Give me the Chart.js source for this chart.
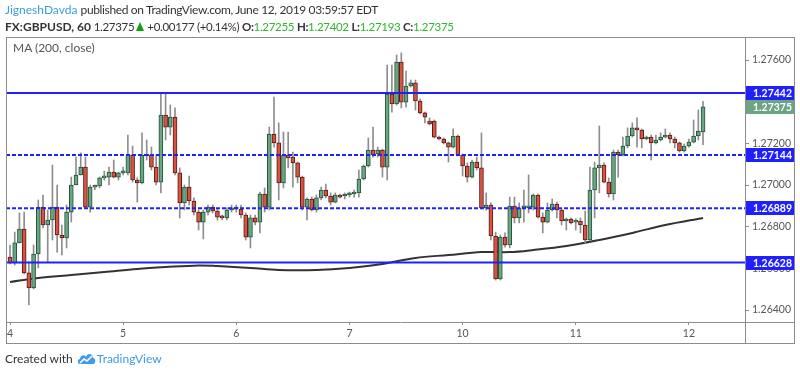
<!DOCTYPE html>
<html>
<head>
<meta charset="utf-8">
<script src="https://cdn.jsdelivr.net/npm/chart.js@4.4.1/dist/chart.umd.min.js"></script>
<style>
html,body{margin:0;padding:0;background:#fff;}
#wrap{position:relative;width:800px;height:376px;overflow:hidden;font-family:Lato,"Open Sans",sans-serif;}
#c{position:absolute;left:0;top:0;}
.t{position:absolute;white-space:nowrap;font-size:12px;line-height:14px;color:#333;}
.b{font-weight:bold;}
.g{color:#2fb52f;}
.u{color:#3d9be9;}
.tri{display:inline-block;width:0;height:0;border-left:4.5px solid transparent;border-right:4.5px solid transparent;border-bottom:9px solid #10a010;vertical-align:0px;margin:0 3px 0 2px;}
</style>
</head>
<body>
<div id="wrap">
<canvas id="c" width="800" height="376"></canvas>
<div class="t" style="left:5px;top:3px;"><span class="u">JigneshDavda</span> <span style="letter-spacing:-0.35px">published on TradingView.com, June 12, 2019 03:59:57 EDT</span></div>
<div class="t" style="left:5px;top:20px;font-size:11.5px;letter-spacing:-0.3px;"><span class="b" style="font-size:12px;letter-spacing:0">FX:GBPUSD, 60</span> 1.27375<span class="tri"></span>+0.00177 (+0.14%) <span class="b">O:</span><span class="g">1.27255</span> <span class="b">H:</span><span class="g">1.27402</span> <span class="b">L:</span><span class="g">1.27193</span> <span class="b">C:</span><span class="g">1.27375</span></div>
<div class="t" style="left:13px;top:41px;color:#555;">MA (200, close)</div>
<div class="t" style="left:5px;top:352px;">Created with <svg width="19" height="13" viewBox="0 0 19 13" style="vertical-align:-2px;margin:0 1px"><path d="M3 12 C0 12 0 7 3 7 C3 3 8 2 9 5 C10 1 16 1 16 6 C19 6 19 12 16 12 Z" fill="#3d9be9"/><path d="M3 11 L7 7 L10 9 L15 4" stroke="#fff" stroke-width="1.6" fill="none"/></svg><span class="u">TradingView</span></div>
</div>
<script>
// ---- data (hourly candles, 4 Jun 00:00 -> 12 Jun 03:00, FX:GBPUSD 60) ----
const opens = [
1.26654,1.26626,1.26722,1.26789,1.26578,1.26506,1.26669,1.26894,1.26808,1.26832,
1.26894,1.26760,1.26746,1.26870,1.27000,1.27048,1.27086,1.26894,1.26990,1.26995,
1.27034,1.27038,1.27062,1.27038,1.27058,1.27058,1.27144,1.27024,1.27010,1.27139,
1.27144,1.27086,1.27014,1.27336,1.27278,1.27326,1.27058,1.26914,1.26990,1.26923,
1.26870,1.26822,1.26870,1.26894,1.26875,1.26846,1.26842,1.26880,1.26885,1.26885,
1.26856,1.26750,1.26842,1.26822,1.26957,1.26894,1.27245,1.27202,1.27010,1.27144,
1.27134,1.27106,1.27038,1.26894,1.26933,1.26880,1.26938,1.26976,1.26947,1.26918,
1.26952,1.26947,1.26952,1.26957,1.26962,1.27029,1.27091,1.27168,1.27149,1.27168,
1.27086,1.27437,1.27389,1.27590,1.27398,1.27475,1.27490,1.27403,1.27346,1.27307,
1.27307,1.27230,1.27221,1.27202,1.27182,1.27235,1.27144,1.27091,1.27038,1.27110,
1.27082,1.26890,1.26904,1.26755,1.26549,1.26750,1.26712,1.26899,1.26842,1.26890,
1.26890,1.26894,1.26952,1.26846,1.26822,1.26880,1.26909,1.26880,1.26827,1.26837,
1.26822,1.26827,1.26808,1.26736,1.26976,1.27082,1.27096,1.27014,1.26957,1.27158,
1.27144,1.27187,1.27235,1.27274,1.27264,1.27221,1.27230,1.27202,1.27216,1.27230,
1.27240,1.27221,1.27202,1.27163,1.27187,1.27206,1.27235,1.27255];
const highs = [
1.26712,1.26774,1.26866,1.26870,1.26630,1.26712,1.26928,1.26952,1.26880,1.27096,
1.27000,1.26808,1.26904,1.27038,1.27134,1.27154,1.27134,1.27000,1.27000,1.27038,
1.27067,1.27086,1.27120,1.27062,1.27086,1.27240,1.27187,1.27034,1.27250,1.27216,
1.27182,1.27144,1.27442,1.27442,1.27384,1.27370,1.27082,1.27000,1.27043,1.26938,
1.26880,1.26880,1.26904,1.26904,1.26885,1.26856,1.26890,1.26904,1.26904,1.26904,
1.26866,1.26856,1.26856,1.26966,1.26986,1.27278,1.27422,1.27298,1.27254,1.27254,
1.27158,1.27110,1.27043,1.26938,1.26942,1.26952,1.26990,1.27005,1.26962,1.26962,
1.26957,1.26962,1.26966,1.26976,1.27072,1.27096,1.27226,1.27278,1.27182,1.27172,
1.27576,1.27576,1.27624,1.27634,1.27547,1.27504,1.27504,1.27413,1.27350,1.27322,
1.27312,1.27235,1.27226,1.27206,1.27269,1.27240,1.27149,1.27106,1.27120,1.27134,
1.27250,1.26962,1.26914,1.26774,1.26760,1.26770,1.26942,1.26942,1.26914,1.26976,
1.27048,1.26957,1.26957,1.26866,1.26914,1.26933,1.26918,1.26885,1.26842,1.26842,
1.26837,1.26842,1.26875,1.27086,1.27110,1.27283,1.27106,1.27034,1.27168,1.27168,
1.27230,1.27274,1.27298,1.27322,1.27269,1.27235,1.27240,1.27240,1.27250,1.27269,
1.27250,1.27230,1.27206,1.27197,1.27221,1.27312,1.27360,1.27402];
const lows = [
1.26621,1.26616,1.26722,1.26573,1.26424,1.26501,1.26602,1.26794,1.26630,1.26736,
1.26678,1.26664,1.26698,1.26822,1.27000,1.27048,1.26890,1.26870,1.26976,1.26986,
1.27024,1.27000,1.27034,1.27024,1.27048,1.27048,1.27014,1.26918,1.27005,1.27120,
1.27072,1.27000,1.26962,1.27216,1.27240,1.27048,1.26842,1.26880,1.26904,1.26856,
1.26784,1.26741,1.26856,1.26866,1.26832,1.26832,1.26832,1.26870,1.26870,1.26842,
1.26736,1.26698,1.26808,1.26770,1.26870,1.26880,1.27182,1.26928,1.26986,1.27082,
1.26990,1.27010,1.26880,1.26832,1.26875,1.26870,1.26928,1.26938,1.26904,1.26914,
1.26938,1.26933,1.26942,1.26942,1.26942,1.27024,1.27086,1.27134,1.27134,1.27038,
1.27024,1.27350,1.27384,1.27370,1.27374,1.27470,1.27360,1.27341,1.27298,1.27288,
1.27226,1.27216,1.27197,1.27110,1.27178,1.27139,1.27043,1.27014,1.27034,1.27072,
1.26885,1.26880,1.26736,1.26544,1.26544,1.26702,1.26698,1.26818,1.26818,1.26822,
1.26866,1.26880,1.26842,1.26770,1.26818,1.26875,1.26842,1.26808,1.26784,1.26813,
1.26784,1.26770,1.26722,1.26731,1.26842,1.26962,1.27010,1.26942,1.26928,1.27038,
1.27139,1.27178,1.27230,1.27182,1.27178,1.27216,1.27120,1.27197,1.27211,1.27226,
1.27202,1.27178,1.27158,1.27158,1.27182,1.27202,1.27216,1.27193];
const closes = [
1.26626,1.26722,1.26789,1.26578,1.26506,1.26669,1.26894,1.26808,1.26832,1.26894,
1.26760,1.26746,1.26870,1.27000,1.27048,1.27086,1.26894,1.26990,1.26995,1.27034,
1.27038,1.27062,1.27038,1.27058,1.27062,1.27144,1.27024,1.27010,1.27144,1.27144,
1.27086,1.27014,1.27336,1.27278,1.27326,1.27058,1.26914,1.26990,1.26923,1.26870,
1.26822,1.26870,1.26894,1.26875,1.26846,1.26842,1.26880,1.26890,1.26890,1.26856,
1.26750,1.26842,1.26822,1.26957,1.26894,1.27245,1.27202,1.27010,1.27144,1.27130,
1.27106,1.27038,1.26894,1.26933,1.26880,1.26938,1.26976,1.26947,1.26918,1.26952,
1.26942,1.26957,1.26962,1.26962,1.27029,1.27091,1.27168,1.27144,1.27168,1.27086,
1.27437,1.27389,1.27590,1.27398,1.27475,1.27490,1.27403,1.27346,1.27326,1.27293,
1.27230,1.27221,1.27202,1.27182,1.27235,1.27144,1.27091,1.27038,1.27110,1.27082,
1.26890,1.26904,1.26755,1.26549,1.26750,1.26712,1.26899,1.26842,1.26890,1.26894,
1.26894,1.26952,1.26846,1.26822,1.26880,1.26909,1.26880,1.26827,1.26837,1.26818,
1.26827,1.26808,1.26736,1.26976,1.27082,1.27096,1.27014,1.26957,1.27158,1.27144,
1.27187,1.27235,1.27274,1.27264,1.27221,1.27230,1.27202,1.27216,1.27230,1.27240,
1.27221,1.27202,1.27163,1.27187,1.27206,1.27235,1.27259,1.27375];

// MA(200, close) read at sampled candle positions
const maIdx  = [0, 6, 13, 20, 27, 33, 40, 44, 51, 57, 65, 72, 79, 86, 93, 100, 106, 111, 118, 125, 132, 139, 147];
const maVals = [1.26534,1.26554,1.26568,1.26582,1.26597,1.26606,1.26614,1.26611,1.26602,1.26592,1.26592,1.26602,1.26621,1.26650,1.26664,1.26678,1.26678,1.26688,1.26707,1.26736,1.26770,1.26808,1.26842];

// horizontal drawn levels
const solidLevels  = [1.27442, 1.26628];
const dashedLevels = [1.27144, 1.26889];

// axis ticks
const dayStarts = [0, 24, 48, 72, 96, 120, 144];
const dayLabels = ['4', '5', '6', '7', '10', '11', '12'];
const priceTicks = [1.264, 1.266, 1.268, 1.270, 1.272, 1.276];

// ---- chart ----
const X_MIN = -0.85, X_MAX = 155.9;
const Y_MIN = 1.263424, Y_MAX = 1.277104;
const UP = '#6ba583', DOWN = '#d75442', UP_B = '#225437', DOWN_B = '#5b1a13';
const LEVEL = '#2020ff';

const isUp = i => closes[i] >= opens[i];

const levelSets = [];
solidLevels.forEach(v => levelSets.push({type:'line', data:[{x:X_MIN,y:v},{x:X_MAX,y:v}], borderColor:LEVEL, borderWidth:2, pointRadius:0, order:0}));
dashedLevels.forEach(v => levelSets.push({type:'line', data:[{x:X_MIN,y:v},{x:X_MAX,y:v}], borderColor:LEVEL, borderWidth:2, borderDash:[4,2], pointRadius:0, order:0}));

const framePlugin = {
  id:'frame',
  afterDraw(chart){
    const ctx = chart.ctx, a = chart.chartArea;
    const ys = chart.scales.y;
    ctx.save();
    // price labels
    ctx.font = 'bold 10.5px Lato, "Open Sans", sans-serif';
    ctx.textBaseline = 'middle';
    const boxes = solidLevels.concat(dashedLevels).map(v => ({v, c:LEVEL}));
    boxes.push({v: closes[closes.length-1], c: UP});
    boxes.forEach(b => {
      const y = ys.getPixelForValue(b.v);
      ctx.fillStyle = b.c;
      ctx.fillRect(a.right, Math.round(y) - 7, 49, 14);
      ctx.fillStyle = '#fff';
      ctx.fillText(b.v.toFixed(5), a.right + 8, Math.round(y) + 0.5);
    });
    // frame
    ctx.strokeStyle = '#8c8c8c';
    ctx.lineWidth = 1;
    ctx.strokeRect(6.5, 37.5, 788, 306);
    ctx.beginPath();
    ctx.moveTo(Math.round(a.right) + 0.5, 37); ctx.lineTo(Math.round(a.right) + 0.5, 344);
    ctx.moveTo(6, Math.round(a.bottom) + 0.5); ctx.lineTo(795, Math.round(a.bottom) + 0.5);
    ctx.stroke();
    ctx.restore();
  }
};

new Chart(document.getElementById('c'), {
  type: 'bar',
  data: {
    datasets: [
      ...levelSets,
      {
        type:'bar',
        data: opens.map((o, i) => ({x:i, y:[o, closes[i]]})),
        backgroundColor: c => isUp(c.dataIndex) ? UP : DOWN,
        borderColor: c => isUp(c.dataIndex) ? UP_B : DOWN_B,
        borderWidth: 1, borderSkipped: false, barThickness: 4, minBarLength: 2,
        grouped: false, order: 1
      },
      {
        type:'bar',
        data: lows.map((l, i) => ({x:i, y:[l, highs[i]]})),
        backgroundColor: '#8e8e8e', borderWidth: 0, barThickness: 1,
        grouped: false, order: 2
      },
      {
        type:'line',
        data: maIdx.map((x, k) => ({x, y: maVals[k]})),
        borderColor: '#333', borderWidth: 2, pointRadius: 0, tension: 0.35, order: 3
      }
    ]
  },
  options: {
    responsive: false, animation: false, devicePixelRatio: 1,
    layout: {padding: {left: 6, top: 37, right: 6, bottom: 33}},
    plugins: {legend: {display: false}, tooltip: {enabled: false}},
    scales: {
      x: {
        type: 'linear', min: X_MIN, max: X_MAX, offset: false,
        grid: {offset: false, drawOnChartArea: false, tickLength: 3, tickColor: '#8c8c8c'},
        border: {display: false},
        afterBuildTicks: s => { s.ticks = dayStarts.map(v => ({value: v})); },
        ticks: {autoSkip: false, maxRotation: 0, padding: 2, color: '#555',
          font: {family: 'Lato', size: 10.5},
          callback: v => dayLabels[dayStarts.indexOf(v)]},
        afterFit: s => { s.height = 21; }
      },
      y: {
        type: 'linear', position: 'right', min: Y_MIN, max: Y_MAX,
        grid: {drawOnChartArea: false, tickLength: 4, tickColor: '#8c8c8c'},
        border: {display: false},
        afterBuildTicks: s => { s.ticks = priceTicks.map(v => ({value: v})); },
        ticks: {padding: 3, color: '#555', font: {family: 'Lato', size: 10.5},
          callback: v => Number(v).toFixed(5)},
        afterFit: s => { s.width = 49; }
      }
    }
  },
  plugins: [framePlugin]
});
</script>
</body>
</html>
